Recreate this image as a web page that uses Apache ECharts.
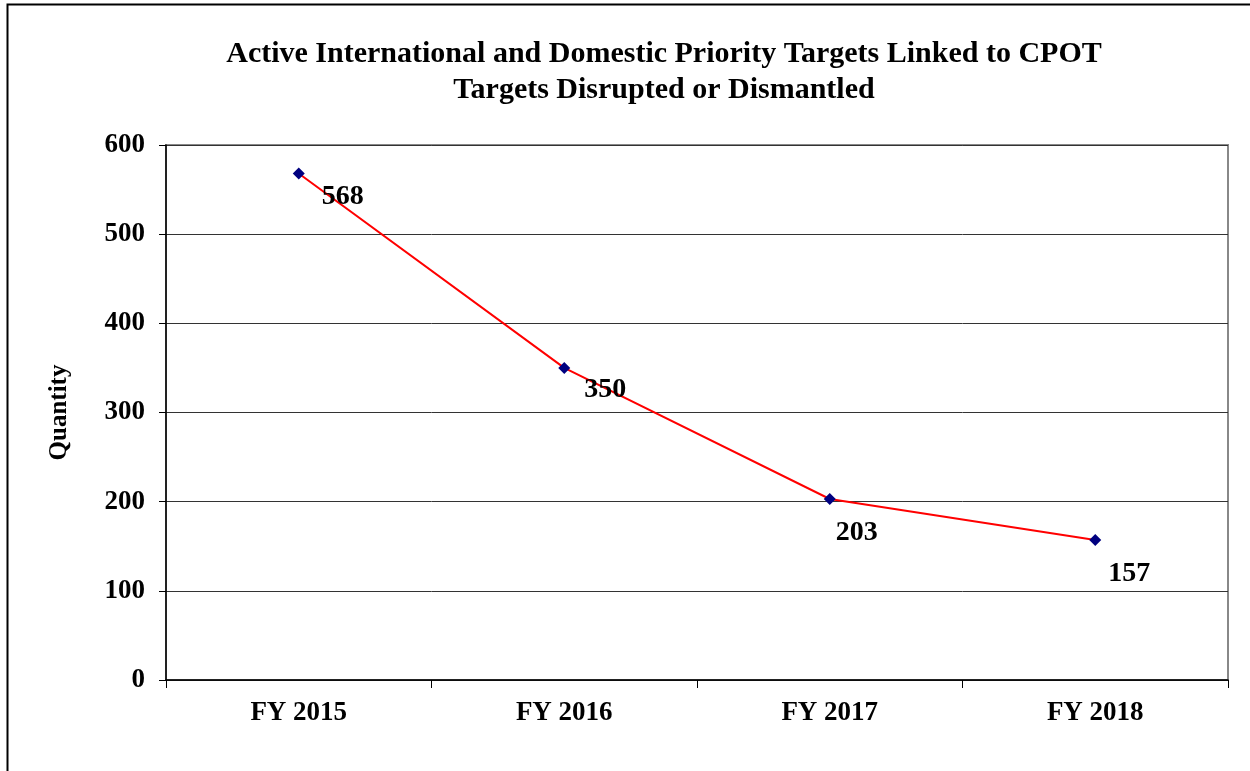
<!DOCTYPE html>
<html>
<head>
<meta charset="utf-8">
<script src="https://cdn.jsdelivr.net/npm/echarts@6/dist/echarts.min.js"></script>
<style>
  html, body { margin: 0; padding: 0; background: #fff; }
  #main { width: 1250px; height: 771px; }
</style>
</head>
<body>
<div id="main"></div>
<script>
// data
const categories = ['FY 2015', 'FY 2016', 'FY 2017', 'FY 2018'];
const values = [568, 350, 203, 157];
// where each value label sits relative to its point (x, y)
const labelOffsets = [[44, -2], [41, -3], [27, 9], [34, 9]];

const serif = '"Liberation Serif", "Times New Roman", serif';

let chartDom = document.getElementById('main');
let myChart = echarts.init(chartDom);

const seriesData = values.map(function (v, i) {
  return {
    value: v,
    label: { offset: labelOffsets[i] }
  };
});

myChart.setOption({
  animation: false,
  backgroundColor: '#fff',
  title: {
    text: 'Active International and Domestic Priority Targets Linked to CPOT\nTargets Disrupted or Dismantled',
    left: 659,
    top: 31,
    textAlign: 'center',
    textStyle: {
      fontFamily: serif,
      fontWeight: 'bold',
      fontSize: 30,
      lineHeight: 36,
      color: '#000'
    }
  },
  graphic: [{
    type: 'rect',
    shape: { x: 7.5, y: 4.5, width: 1300, height: 900 },
    style: { fill: null, stroke: '#000', lineWidth: 2 },
    silent: true
  }],
  grid: {
    left: 166,
    right: 22,
    top: 145,
    bottom: 91,
    show: true,
    borderColor: '#888',
    borderWidth: 2
  },
  xAxis: {
    type: 'category',
    data: categories,
    boundaryGap: true,
    axisLine: { lineStyle: { color: '#000', width: 1.5 } },
    axisTick: { show: true, alignWithLabel: false, length: 8, lineStyle: { color: '#000' } },
    axisLabel: {
      margin: 20,
      fontFamily: serif,
      fontWeight: 'bold',
      fontSize: 27,
      color: '#000'
    }
  },
  yAxis: {
    type: 'value',
    min: 0,
    max: 600,
    interval: 100,
    name: 'Quantity',
    nameLocation: 'middle',
    nameGap: 94,
    nameTextStyle: {
      fontFamily: serif,
      fontWeight: 'bold',
      fontSize: 25,
      color: '#000'
    },
    axisLine: { show: true, lineStyle: { color: '#000', width: 1.5 } },
    axisTick: { show: true, length: 7, lineStyle: { color: '#000' } },
    axisLabel: {
      margin: 21,
      fontFamily: serif,
      fontWeight: 'bold',
      fontSize: 27,
      color: '#000'
    },
    splitLine: { lineStyle: { color: '#333', width: 1 } }
  },
  series: [{
    type: 'line',
    data: seriesData,
    symbol: 'diamond',
    symbolSize: 12,
    itemStyle: { color: '#000080' },
    lineStyle: { color: '#ff0000', width: 2 },
    label: {
      show: true,
      position: 'bottom',
      fontFamily: serif,
      fontWeight: 'bold',
      fontSize: 28,
      color: '#000'
    }
  }]
});
</script>
</body>
</html>
